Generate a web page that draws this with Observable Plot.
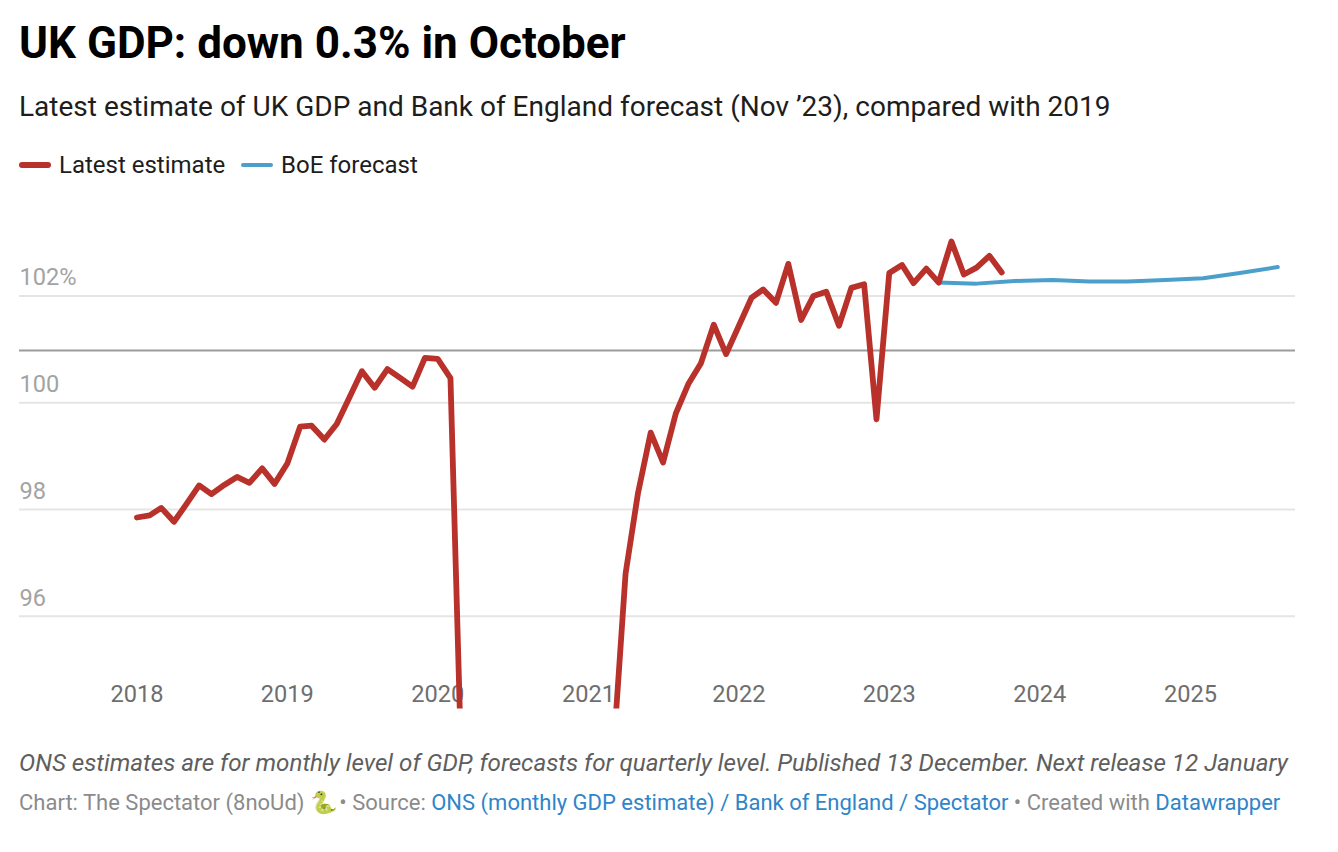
<!DOCTYPE html>
<html><head><meta charset="utf-8">
<script src="https://cdn.jsdelivr.net/npm/d3@7"></script>
<script src="https://cdn.jsdelivr.net/npm/@observablehq/plot@0.6"></script>
<style>
html,body{margin:0;padding:0;background:#fff;font-family:Roboto,sans-serif;width:1338px;height:852px;overflow:hidden}
.t{position:absolute;left:19px;white-space:nowrap}
#title{top:16px;font-size:44px;font-weight:700;line-height:54px;color:#000}
#sub{top:90px;font-size:28px;line-height:34px;color:#1d1d1d}
#legend{top:150px;font-size:24px;line-height:30px;color:#1d1d1d;left:0}
#legend span{position:absolute;top:0}
#legend i{position:absolute;height:6px;border-radius:3px;top:11.5px}
#note{top:748px;font-size:24.2px;line-height:30px;font-style:italic;color:#5e5e5e}
#src{top:788px;font-size:22px;line-height:30px;color:#8b8b8b}
#src b{font-weight:400;color:#2f85c8}
#src u{text-decoration:none;letter-spacing:-3px}
#src s{text-decoration:none;letter-spacing:.6px}
#chart{position:absolute;left:0;top:189.5px}
</style></head><body>
<div class="t" id="title">UK GDP: down 0.3% in October</div>
<div class="t" id="sub">Latest estimate of UK GDP and Bank of England forecast (Nov ’23), compared with 2019</div>
<div class="t" id="legend">
<i style="left:19px;width:32px;background:#b8312a"></i><span style="left:59px">Latest estimate</span>
<i style="left:241px;width:32px;height:4px;top:12.5px;background:#4aa0cb"></i><span style="left:281px">BoE forecast</span>
</div>
<div id="chart"></div>
<div class="t" id="note">ONS estimates are for monthly level of GDP, forecasts for quarterly level. Published 13 December. Next release 12 January</div>
<div class="t" id="src">Chart: The Spectator (8noUd) <u>🐍</u> • Source: <b>ONS (monthly GDP estimate) / Bank of England / Spectator</b> • Created with <b>Datawrapper</b></div>
<script>
const estimateValues = [
  97.85,97.89,98.03,97.77,98.10,98.45,98.29,98.46,98.61,98.50,98.77,98.48,
  98.86,99.55,99.57,99.31,99.60,100.10,100.59,100.28,100.63,100.47,100.30,100.84,
  100.82,100.46,92.5,75,77.5,84.5,90,91.5,92.5,93,91,92,
  88.5,89.5,93.3,96.80,98.30,99.44,98.88,99.80,100.36,100.74,101.46,100.91,
  101.44,101.97,102.12,101.87,102.60,101.55,102.00,102.08,101.44,102.15,102.22,99.69,
  102.43,102.58,102.24,102.51,102.25,103.02,102.40,102.53,102.75,102.44
];
const forecastMonths = ["2023-05-01","2023-08-01","2023-11-01","2024-02-01","2024-05-01","2024-08-01","2024-11-01","2025-02-01","2025-05-01","2025-08-01"];
const forecastValues = [102.25,102.23,102.28,102.30,102.27,102.27,102.30,102.33,102.43,102.54];
const gridValues = [96,98,100,102];
const baselineValue = [100.98];
const yearTicks = ["2018","2019","2020","2021","2022","2023","2024","2025"];

const estimate = estimateValues.map((v,i)=>({date:new Date(Date.UTC(2018,i,1)),v}));
const forecast = forecastMonths.map((m,i)=>({date:new Date(m),v:forecastValues[i]}));

const plot = Plot.plot({
  width:1338,height:520,
  marginLeft:19,marginRight:43,marginTop:0,marginBottom:1.5,
  style:{fontFamily:"Roboto,sans-serif",background:"transparent",overflow:"visible"},
  x:{type:"utc",domain:[new Date("2017-03-22"),new Date("2025-09-13")]},
  y:{domain:[94.264,103.974]},
  marks:[
    Plot.ruleY(gridValues,{stroke:"#e5e5e5",strokeWidth:2}),
    Plot.ruleY(baselineValue,{stroke:"#9c9c9c",strokeWidth:2}),
    Plot.axisX(yearTicks.map(y=>new Date(y+"-01-01")),{anchor:"bottom",tickSize:0,tickPadding:0,dy:-23.5,
      tickFormat:d3.utcFormat("%Y"),fontSize:23.6,fill:"#6e6e6e",label:null}),
    Plot.axisY(gridValues,{anchor:"left",tickSize:0,tickPadding:0,textAnchor:"start",lineAnchor:"bottom",dy:-10.5,
      tickFormat:d=>d===102?"102%":String(d),fontSize:23.6,fill:"#a3a3a3",label:null}),
    Plot.lineY(forecast,{x:"date",y:"v",stroke:"#4aa0cb",strokeWidth:4,clip:true}),
    Plot.lineY(estimate,{x:"date",y:"v",stroke:"#b8312a",strokeWidth:5.8,clip:true})
  ]
});
document.getElementById("chart").appendChild(plot);
</script>
</body></html>
